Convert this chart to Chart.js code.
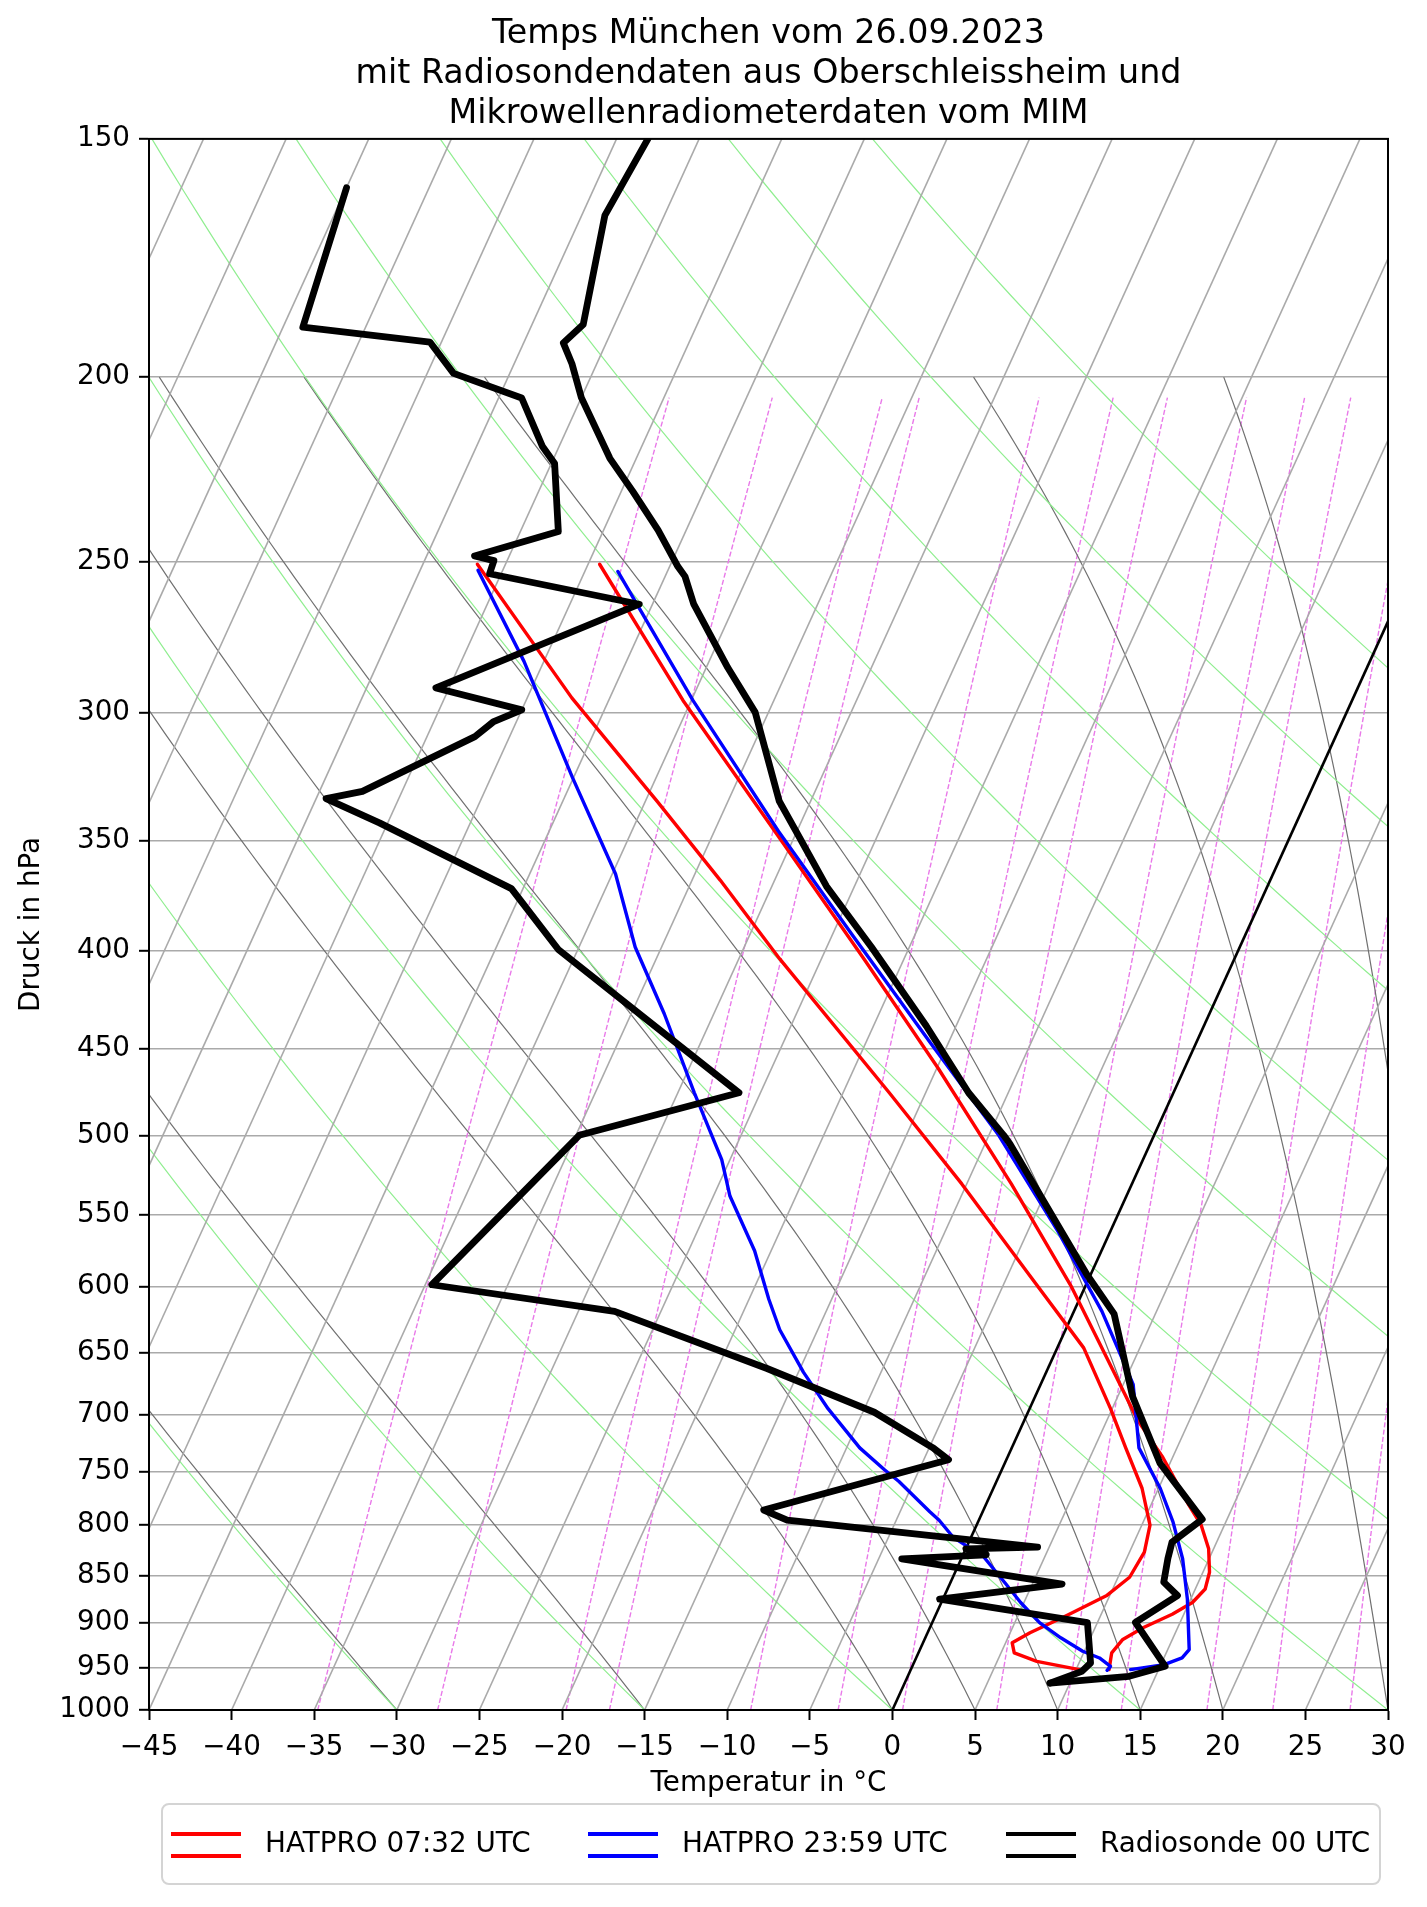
<!DOCTYPE html>
<html>
<head>
<meta charset="utf-8">
<title>Temps München 26.09.2023</title>
<script src="https://cdn.jsdelivr.net/npm/chart.js@4"></script>
<style>
  html, body { margin: 0; padding: 0; background: #fff; }
  #wrap { width: 1427px; height: 1907px; }
</style>
</head>
<body>
<div id="wrap"><canvas id="skewT" width="1427" height="1907"></canvas></div>
<script>
// ----------- Axis setup -----------
const pressureTicks = [150, 200, 250, 300, 350, 400, 450, 500, 550, 600, 650, 700, 750, 800, 850, 900, 950, 1000];
const tempMin = -45, tempMax = 30, tempStep = 5;
const pTop = 150, pBottom = 1000;

// ----------- Background lines (skew-T helpers) -----------
const isothermTemps = [-90, -85, -80, -75, -70, -65, -60, -55, -50, -45, -40, -35, -30, -25, -20, -15, -10, -5, 0, 5, 10, 15, 20, 25, 30];
const dryAdiabatT0 = [-30, -15, 0, 15, 30, 45, 60, 75, 90, 105, 120];
const moistAdiabatT0 = [-30, -15, 0, 5, 10, 15, 20, 30, 35];
const mixingRatios = [0.2, 0.4, 0.8, 1, 2, 3, 4, 6, 8, 10, 14, 18, 24]; // g/kg

// ----------- Radiosonde 00 UTC (Oberschleissheim) -----------
const sondeTempP = [150, 164.5, 187.7, 191.9, 196.8, 205.0, 220.6, 229.6, 240.6, 251.4, 254.4, 263.1, 284.0, 299.8, 333.7, 347.8, 369.8, 398.0, 437.8, 474.6, 499.6, 504.7, 591.4, 619.8, 684.9, 742.4, 794.3, 816.7, 832.8, 856.9, 870.9, 899.7, 948.5, 960.1, 968.0];
const sondeTempT = [-58.1, -58.6, -56.9, -57.6, -56.5, -55.0, -51.6, -49.3, -46.7, -44.5, -43.8, -42.5, -38.7, -35.8, -31.9, -29.8, -26.7, -22.3, -16.8, -12.4, -9.1, -8.5, -0.2, 2.5, 5.9, 9.4, 13.5, 12.3, 12.5, 12.9, 14.1, 12.3, 15.3, 13.4, 8.8];
const sondeDewP = [159.1, 188.3, 191.7, 199.1, 205.1, 217.5, 222.0, 241.0, 248.2, 249.6, 253.6, 263.1, 291.1, 298.9, 303.3, 308.7, 329.8, 332.7, 342.6, 370.9, 399.1, 474.6, 499.6, 598.4, 618.0, 662.1, 698.0, 728.4, 739.2, 785.5, 795.2, 821.4, 823.1, 829.1, 833.1, 858.9, 874.7, 899.9, 944.8, 954.4, 968.0];
const sondeDewT = [-75.0, -73.8, -65.7, -63.4, -58.6, -56.0, -54.8, -52.7, -57.1, -55.8, -55.7, -45.8, -55.8, -50.0, -51.4, -52.1, -57.4, -59.4, -55.5, -45.7, -41.2, -26.3, -34.8, -39.6, -27.8, -17.0, -9.3, -4.8, -3.5, -13.3, -11.6, 4.3, 0.0, 1.4, -3.6, 6.8, -0.2, 9.4, 10.7, 10.4, 8.8];

// ----------- HATPRO 07:32 UTC -----------
const hat0732TempP = [250.7, 295.5, 348.7, 403.9, 460.9, 529.8, 600.2, 655.4, 705.3, 737.0, 780.8, 800.0, 823.1, 846.8, 864.1, 878.3, 890.8, 905.4, 918.3, 933.3, 952.4];
const hat0732TempT = [-49.3, -40.5, -30.9, -22.4, -14.9, -7.3, -0.8, 3.4, 6.9, 9.4, 12.3, 13.6, 14.7, 15.4, 15.6, 15.2, 14.3, 12.9, 12.0, 11.7, 12.0];
const hat0732DewP = [250.7, 294.6, 333.7, 367.1, 403.9, 474.6, 529.8, 591.4, 645.8, 695.0, 728.7, 765.1, 800.0, 826.4, 851.9, 871.2, 892.6, 910.9, 922.1, 933.3, 942.9, 952.4];
const hat0732DewT = [-56.7, -47.3, -39.3, -33.3, -27.5, -17.2, -10.3, -3.7, 1.6, 4.9, 6.9, 9.0, 10.5, 10.9, 10.7, 9.8, 7.9, 6.2, 5.4, 5.8, 7.4, 10.2];

// ----------- HATPRO 23:59 UTC -----------
const hat2359TempP = [252.9, 295.5, 346.2, 392.2, 447.5, 499.6, 561.8, 618.0, 674.9, 728.7, 765.1, 796.8, 833.1, 874.7, 929.6, 939.1, 946.7, 952.4];
const hat2359TempT = [-48.0, -39.9, -31.1, -23.8, -16.0, -9.4, -3.1, 1.7, 5.6, 7.7, 10.1, 11.8, 13.4, 14.8, 16.3, 16.1, 15.2, 13.3];
const hat2359DewP = [252.5, 281.9, 324.1, 364.4, 398.0, 431.4, 474.6, 514.5, 537.6, 574.3, 609.0, 631.8, 665.0, 695.0, 728.7, 748.2, 758.9, 787.1, 795.2, 811.5, 819.7, 829.8, 858.9, 878.3, 899.9, 916.5, 931.5, 939.1, 948.6, 953.2];
const hat2359DewT = [-56.5, -51.2, -45.1, -39.8, -36.6, -33.0, -29.0, -25.5, -24.0, -21.0, -18.8, -17.3, -14.7, -12.2, -9.2, -7.1, -5.9, -3.2, -2.4, -1.1, -0.1, 1.2, 3.4, 4.8, 6.5, 8.2, 9.9, 11.1, 12.0, 11.9];

const legendLabels = ['HATPRO 07:32 UTC', 'HATPRO 23:59 UTC', 'Radiosonde 00 UTC'];
const legendColors = ['#ff0000', '#0000ff', '#000000'];

// ----------- Skew-T transform -----------
// isotherms lean 30 degrees in axes space (like MetPy's SkewT)
const SKEW = Math.tan(30 * Math.PI / 180) * (tempMax - tempMin) / Math.log(pBottom / pTop);
const skewX = (t, p) => t + SKEW * Math.log(pBottom / p);
const profile = (ps, ts) => ps.map((p, i) => ({x: skewX(ts[i], p), y: p}));
const logSpace = (p0, p1, n) => Array.from({length: n + 1}, (_, i) => p0 * Math.pow(p1 / p0, i / n));

const RD = 287.04749, CPD = 1004.666, LV = 2.501e6, EPS = 0.621957, KAPPA = RD / CPD;

function satVap(tc) { return 6.112 * Math.exp(17.67 * tc / (tc + 243.5)); }

function dryAdiabat(t0) {
    return logSpace(pBottom, pTop, 60).map(p => ({x: skewX((t0 + 273.15) * Math.pow(p / pBottom, KAPPA) - 273.15, p), y: p}));
}

function moistAdiabat(t0, pEnd) {
    const f = (T, lnp) => {
        const p = Math.exp(lnp);
        const es = satVap(T - 273.15);
        const rs = EPS * es / (p - es);
        return (RD * T + LV * rs) / (CPD + LV * LV * rs * EPS / (RD * T * T));
    };
    const steps = 120;
    let T = t0 + 273.15, lnp = Math.log(pBottom);
    const h = (Math.log(pEnd) - lnp) / steps;
    const pts = [{x: skewX(t0, pBottom), y: pBottom}];
    for (let i = 0; i < steps; i++) {
        const k1 = f(T, lnp);
        const k2 = f(T + h * k1 / 2, lnp + h / 2);
        const k3 = f(T + h * k2 / 2, lnp + h / 2);
        const k4 = f(T + h * k3, lnp + h);
        T += h * (k1 + 2 * k2 + 2 * k3 + k4) / 6;
        lnp += h;
        const p = Math.exp(lnp);
        pts.push({x: skewX(T - 273.15, p), y: p});
    }
    return pts;
}

function mixingLine(w) {
    const wk = w / 1000;
    return logSpace(pBottom, 205, 30).map(p => {
        const e = wk * p / (EPS + wk);
        const l = Math.log(e / 6.112);
        return {x: skewX(243.5 * l / (17.67 - l), p), y: p};
    });
}

const bgLine = (data, color, width, dash) => ({
    data, showLine: true, borderColor: color, borderWidth: width, borderDash: dash || [],
    pointRadius: 0, fill: false, tension: 0, clip: 0, order: 10
});
const dataLine = (data, color, width, order) => ({
    data, showLine: true, borderColor: color, borderWidth: width,
    pointRadius: 0, fill: false, tension: 0, clip: 0, order: order,
    borderJoinStyle: 'round', borderCapStyle: 'round'
});

const datasets = [];
isothermTemps.forEach(t => {
    const line = [{x: skewX(t, pBottom), y: pBottom}, {x: skewX(t, pTop), y: pTop}];
    datasets.push(t === 0 ? Object.assign(bgLine(line, '#000000', 2.6), {order: 9}) : bgLine(line, '#aaaaaa', 1.6));
});
dryAdiabatT0.forEach(t => datasets.push(bgLine(dryAdiabat(t), '#90ee90', 1.2)));
moistAdiabatT0.forEach(t => datasets.push(bgLine(moistAdiabat(t, 200), '#707070', 1.2)));
mixingRatios.forEach(w => datasets.push(bgLine(mixingLine(w), '#e97ae9', 1.4, [5.1, 2.2])));

datasets.push(dataLine(profile(hat0732TempP, hat0732TempT), legendColors[0], 3.4, 3));
datasets.push(dataLine(profile(hat0732DewP, hat0732DewT), legendColors[0], 3.4, 3));
datasets.push(dataLine(profile(hat2359TempP, hat2359TempT), legendColors[1], 3.4, 2));
datasets.push(dataLine(profile(hat2359DewP, hat2359DewT), legendColors[1], 3.4, 2));
datasets.push(dataLine(profile(sondeTempP, sondeTempT), legendColors[2], 6.8, 1));
datasets.push(dataLine(profile(sondeDewP, sondeDewT), legendColors[2], 6.8, 1));

// ----------- Frame + legend plugin -----------
const frameAndLegend = {
    id: 'frameAndLegend',
    afterDatasetsDraw(chart) {
        const {ctx, chartArea: a} = chart;
        ctx.save();
        ctx.strokeStyle = '#000';
        ctx.lineWidth = 2;
        ctx.strokeRect(a.left, a.top, a.right - a.left, a.bottom - a.top);
        ctx.restore();
    },
    afterDraw(chart) {
        const ctx = chart.ctx;
        const box = {x: 162, y: 1804, w: 1218, h: 80, r: 7};
        ctx.save();
        ctx.beginPath();
        ctx.roundRect(box.x, box.y, box.w, box.h, box.r);
        ctx.fillStyle = 'rgba(255,255,255,0.8)';
        ctx.fill();
        ctx.strokeStyle = '#d4d4d4';
        ctx.lineWidth = 2;
        ctx.stroke();
        const handleX = [171, 588, 1006];
        ctx.font = '27.8px "DejaVu Sans"';
        ctx.textBaseline = 'middle';
        ctx.textAlign = 'left';
        legendLabels.forEach((label, i) => {
            ctx.strokeStyle = legendColors[i];
            ctx.lineWidth = 4;
            [1834, 1856].forEach(y => {
                ctx.beginPath();
                ctx.moveTo(handleX[i], y);
                ctx.lineTo(handleX[i] + 70, y);
                ctx.stroke();
            });
            ctx.fillStyle = '#000';
            ctx.fillText(label, handleX[i] + 94, 1845);
        });
        ctx.restore();
    }
};

Chart.defaults.font.family = '"DejaVu Sans", sans-serif';
Chart.defaults.color = '#000';

new Chart(document.getElementById('skewT'), {
    type: 'scatter',
    data: {datasets},
    plugins: [frameAndLegend],
    options: {
        responsive: false,
        devicePixelRatio: 1,
        animation: false,
        events: [],
        layout: {padding: {left: 0, right: 39, top: 0, bottom: 97}},
        plugins: {
            legend: {display: false},
            tooltip: {enabled: false},
            title: {
                display: true,
                fullSize: false,
                text: ['Temps München vom 26.09.2023', 'mit Radiosondendaten aus Oberschleissheim und', 'Mikrowellenradiometerdaten vom MIM'],
                font: {size: 33.3, weight: 'normal'},
                color: '#000',
                padding: {top: 14, bottom: 5}
            }
        },
        scales: {
            x: {
                type: 'linear',
                min: tempMin,
                max: tempMax,
                afterFit: s => { s.height = 100; },
                ticks: {
                    stepSize: tempStep,
                    autoSkip: false,
                    maxRotation: 0,
                    padding: 11,
                    font: {size: 27.8},
                    callback: v => (v < 0 ? '\u2212' + Math.abs(v) : String(v))
                },
                grid: {drawOnChartArea: false, drawTicks: true, tickLength: 10, tickColor: '#000', tickWidth: 2},
                border: {display: true, color: '#000', width: 2},
                title: {display: true, text: 'Temperatur in \u00b0C', font: {size: 27.8}, padding: {top: 0, bottom: 10}}
            },
            y: {
                type: 'logarithmic',
                min: pTop,
                max: pBottom,
                reverse: true,
                afterFit: s => { s.width = 149; },
                afterBuildTicks: s => { s.ticks = pressureTicks.map(v => ({value: v})); },
                ticks: {
                    autoSkip: false,
                    padding: 9,
                    font: {size: 27.8},
                    callback: v => String(v)
                },
                grid: {color: '#aaaaaa', lineWidth: 1.6, tickLength: 10, tickColor: '#000', tickWidth: 2},
                border: {display: true, color: '#000', width: 2},
                title: {display: true, text: 'Druck in hPa', font: {size: 27.8}, padding: {top: 15, bottom: 0}}
            }
        }
    }
});
</script>
</body>
</html>
